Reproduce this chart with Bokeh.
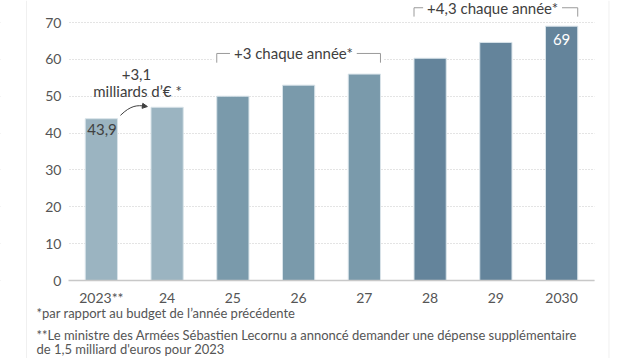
from bokeh.plotting import figure
from bokeh.models import (Range1d, Label, Arrow, NormalHead, Span,
                          ColumnDataSource, FixedTicker)
from bokeh.embed import file_html
from bokeh.resources import INLINE

# ---------------- data ----------------
years = ["2023**", "24", "25", "26", "27", "28", "29", "2030"]
budget = [43.9, 47.0, 50.0, 53.0, 56.0, 60.3, 64.6, 69.0]
phase_colors = ["#9bb4c1", "#9bb4c1", "#7a9aab", "#7a9aab", "#7a9aab",
                "#64849b", "#64849b", "#64849b"]
y_ticks = [0, 10, 20, 30, 40, 50, 60, 70]
first_label = "43,9"
last_label = "69"
step1_text = ["+3,1", "milliards d’€ *"]
step2_text = "+3 chaque année*"
step3_text = "+4,3 chaque année*"
footnote1 = "*par rapport au budget de l’année précédente"
footnote2a = "**Le ministre des Armées Sébastien Lecornu a annoncé demander une dépense supplémentaire"
footnote2b = "de 1,5 milliard d'euros pour 2023"

FONT = "Lato"
GREY = "#555555"
DARK = "#404040"

pos = list(range(len(years)))

W, H = 636, 358
p = figure(width=W, height=H,
           x_range=Range1d(-1.534, 8.139),
           y_range=Range1d(-21.16, 75.97),
           output_backend="svg", toolbar_location=None,
           min_border_left=0, min_border_right=0,
           min_border_top=0, min_border_bottom=0)
p.outline_line_color = None
p.background_fill_color = "white"
p.border_fill_color = "white"

# axes placed inside the frame
p.xaxis.fixed_location = 0
p.xaxis.bounds = (pos[0] - 0.5, pos[-1] + 0.5)
p.xaxis.ticker = FixedTicker(ticks=pos)
p.xaxis.major_label_overrides = {i: lab for i, lab in zip(pos, years)}
p.xaxis.major_label_text_font = FONT
p.xaxis.major_label_text_font_size = "14px"
p.xaxis.major_label_text_color = GREY
p.xaxis.major_tick_line_color = None
p.xaxis.major_tick_out = 0
p.xaxis.major_tick_in = 0
p.xaxis.minor_tick_line_color = None
p.xaxis.axis_line_color = "#c8c8c8"
p.xaxis.axis_line_width = 1.5
p.xaxis.major_label_standoff = 8

p.yaxis.fixed_location = pos[0] - 0.5
p.yaxis.bounds = (0, 70)
p.yaxis.ticker = FixedTicker(ticks=y_ticks)
p.yaxis.major_label_text_font = FONT
p.yaxis.major_label_text_font_size = "14px"
p.yaxis.major_label_text_color = GREY
p.yaxis.axis_line_color = None
p.yaxis.major_tick_line_color = None
p.yaxis.major_tick_out = 0
p.yaxis.major_tick_in = 0
p.yaxis.minor_tick_line_color = None
p.yaxis.major_label_standoff = 7

p.xgrid.grid_line_color = None
p.ygrid.ticker = FixedTicker(ticks=y_ticks)
p.ygrid.grid_line_color = "#c8c8c8"
p.ygrid.grid_line_dash = "1 2"
p.ygrid.grid_line_width = 1

# keep grid lines within the plotting area
x0r, x1r = p.x_range.start, p.x_range.end
p.quad(left=[x0r, pos[-1] + 0.5], right=[pos[0] - 0.5, x1r],
       bottom=[-1, -1], top=[76, 76], fill_color="white", line_color=None)

# faint panel borders
for loc in (-1.139, 7.72):
    p.add_layout(Span(location=loc, dimension="height",
                      line_color="#f0f0f0", line_width=1))

# bars
src = ColumnDataSource(dict(x=pos, budget=budget, color=phase_colors))
p.vbar(x="x", top="budget", width=0.49, source=src,
       fill_color="color", line_color="#d8e3e9", line_width=1)

# value labels in bars
p.add_layout(Label(x=pos[0] + 0.01, y=budget[0] - 2.9, text=first_label,
                   text_font=FONT, text_font_size="15px", text_color=DARK,
                   text_align="center", text_baseline="middle"))
p.add_layout(Label(x=pos[-1], y=budget[-1] - 3.6, text=last_label,
                   text_font=FONT, text_font_size="15px", text_color="white",
                   text_align="center", text_baseline="middle"))

# first step annotation + curved arrow
p.add_layout(Label(x=0.534, y=55.9, text=step1_text[0],
                   text_font=FONT, text_font_size="15px", text_color=DARK,
                   text_align="center", text_baseline="middle"))
p.add_layout(Label(x=0.55, y=51.4, text=step1_text[1],
                   text_font=FONT, text_font_size="15px", text_color=DARK,
                   text_align="center", text_baseline="middle"))
p.bezier(x0=[0.29], y0=[budget[0] + 0.9], x1=[0.67], y1=[47.3],
         cx0=[0.45], cy0=[47.6], cx1=[0.55], cy1=[47.6],
         line_color=DARK, line_width=1)
p.add_layout(Arrow(end=NormalHead(size=5, fill_color=DARK, line_color=DARK),
                   x_start=0.62, y_start=47.4, x_end=0.70, y_end=47.2,
                   line_color=DARK, line_width=1))

# bracket helper
def bracket(xa, xb, yh, ylow, text, xc, mask=False):
    if mask:
        p.quad(left=[xa - 0.05], right=[xb + 0.05], bottom=[ylow - 0.3],
               top=[yh + 2.0], fill_color="white", line_color=None)
    p.multi_line(xs=[[xa, xa, xb, xb]], ys=[[ylow, yh, yh, ylow]],
                 line_color="#9a9a9a", line_width=1)
    p.add_layout(Label(x=xc, y=yh, text=text, text_font=FONT,
                       text_font_size="15px", text_color=DARK,
                       text_align="center", text_baseline="middle",
                       background_fill_color="white", padding=4))

bracket(1.755, 4.245, 61.6, 59.1, step2_text, 2.92, mask=True)
bracket(4.755, 7.245, 74.0, 71.6, step3_text, 5.95)

# footnotes
for txt, yy in [(footnote1, -8.68), (footnote2a, -14.9), (footnote2b, -18.6)]:
    p.add_layout(Label(x=-0.987, y=yy, text=txt, text_font=FONT,
                       text_font_size="13px", text_color=GREY,
                       text_align="left", text_baseline="middle"))

open("out.html", "w").write(file_html(p, INLINE))
